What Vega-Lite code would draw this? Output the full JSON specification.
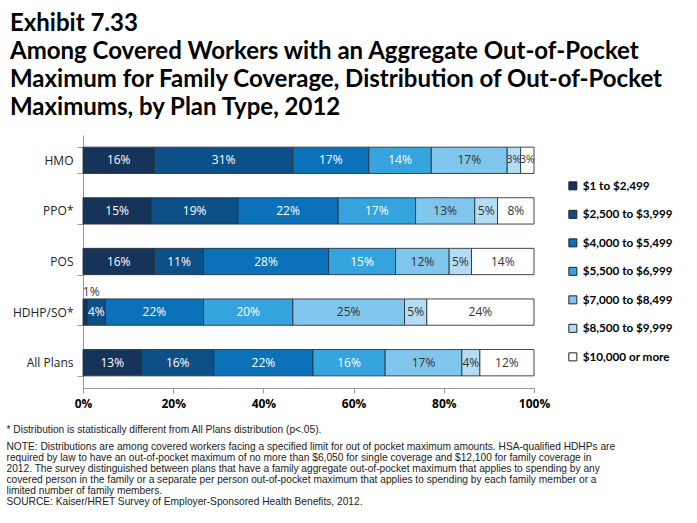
{
  "$schema": "https://vega.github.io/schema/vega-lite/v6.json",
  "width": 451,
  "height": 253,
  "autosize": {"type": "none"},
  "padding": {"left": 83, "top": 135, "right": 163, "bottom": 135},
  "background": "white",
  "title": {
    "text": ["Exhibit 7.33", "Among Covered Workers with an Aggregate Out-of-Pocket", "Maximum for Family Coverage, Distribution of Out-of-Pocket", "Maximums, by Plan Type, 2012"],
    "anchor": "start",
    "frame": "group",
    "dx": -73,
    "offset": 9,
    "font": "Lato",
    "fontSize": 24,
    "fontWeight": "bold",
    "lineHeight": 28,
    "color": "#000000"
  },
  "data": {
    "values": [
      {"plan": "HMO", "band": "$1 to $2,499", "ord": 0, "v": 16},
      {"plan": "HMO", "band": "$2,500 to $3,999", "ord": 1, "v": 31},
      {"plan": "HMO", "band": "$4,000 to $5,499", "ord": 2, "v": 17},
      {"plan": "HMO", "band": "$5,500 to $6,999", "ord": 3, "v": 14},
      {"plan": "HMO", "band": "$7,000 to $8,499", "ord": 4, "v": 17},
      {"plan": "HMO", "band": "$8,500 to $9,999", "ord": 5, "v": 3},
      {"plan": "HMO", "band": "$10,000 or more", "ord": 6, "v": 3},
      {"plan": "PPO*", "band": "$1 to $2,499", "ord": 0, "v": 15},
      {"plan": "PPO*", "band": "$2,500 to $3,999", "ord": 1, "v": 19},
      {"plan": "PPO*", "band": "$4,000 to $5,499", "ord": 2, "v": 22},
      {"plan": "PPO*", "band": "$5,500 to $6,999", "ord": 3, "v": 17},
      {"plan": "PPO*", "band": "$7,000 to $8,499", "ord": 4, "v": 13},
      {"plan": "PPO*", "band": "$8,500 to $9,999", "ord": 5, "v": 5},
      {"plan": "PPO*", "band": "$10,000 or more", "ord": 6, "v": 8},
      {"plan": "POS", "band": "$1 to $2,499", "ord": 0, "v": 16},
      {"plan": "POS", "band": "$2,500 to $3,999", "ord": 1, "v": 11},
      {"plan": "POS", "band": "$4,000 to $5,499", "ord": 2, "v": 28},
      {"plan": "POS", "band": "$5,500 to $6,999", "ord": 3, "v": 15},
      {"plan": "POS", "band": "$7,000 to $8,499", "ord": 4, "v": 12},
      {"plan": "POS", "band": "$8,500 to $9,999", "ord": 5, "v": 5},
      {"plan": "POS", "band": "$10,000 or more", "ord": 6, "v": 14},
      {"plan": "HDHP/SO*", "band": "$1 to $2,499", "ord": 0, "v": 1},
      {"plan": "HDHP/SO*", "band": "$2,500 to $3,999", "ord": 1, "v": 4},
      {"plan": "HDHP/SO*", "band": "$4,000 to $5,499", "ord": 2, "v": 22},
      {"plan": "HDHP/SO*", "band": "$5,500 to $6,999", "ord": 3, "v": 20},
      {"plan": "HDHP/SO*", "band": "$7,000 to $8,499", "ord": 4, "v": 25},
      {"plan": "HDHP/SO*", "band": "$8,500 to $9,999", "ord": 5, "v": 5},
      {"plan": "HDHP/SO*", "band": "$10,000 or more", "ord": 6, "v": 24},
      {"plan": "All Plans", "band": "$1 to $2,499", "ord": 0, "v": 13},
      {"plan": "All Plans", "band": "$2,500 to $3,999", "ord": 1, "v": 16},
      {"plan": "All Plans", "band": "$4,000 to $5,499", "ord": 2, "v": 22},
      {"plan": "All Plans", "band": "$5,500 to $6,999", "ord": 3, "v": 16},
      {"plan": "All Plans", "band": "$7,000 to $8,499", "ord": 4, "v": 17},
      {"plan": "All Plans", "band": "$8,500 to $9,999", "ord": 5, "v": 4},
      {"plan": "All Plans", "band": "$10,000 or more", "ord": 6, "v": 12}
    ]
  },
  "transform": [
    {"stack": "v", "groupby": ["plan"], "sort": [{"field": "ord", "order": "ascending"}], "as": ["v0", "v1"], "offset": "normalize"},
    {"calculate": "(datum.v0 + datum.v1) / 2", "as": "mid"},
    {"calculate": "datum.v + '%'", "as": "lab"}
  ],
  "encoding": {
    "y": {
      "field": "plan",
      "type": "nominal",
      "sort": ["HMO", "PPO*", "POS", "HDHP/SO*", "All Plans"],
      "scale": {"paddingInner": 0.48, "paddingOuter": 0.24},
      "axis": {
        "title": "* Distribution is statistically different from All Plans distribution (p<.05).",
        "titleAngle": 0,
        "titleAlign": "left",
        "titleAnchor": "start",
        "titleBaseline": "middle",
        "titleX": -77,
        "titleY": 294,
        "titleFont": "Liberation Sans",
        "titleFontSize": 10.2,
        "titleFontWeight": "normal",
        "titleColor": "#222222",
        "tickBand": "extent",
        "domainColor": "#999999",
        "tickColor": "#999999",
        "tickSize": 6,
        "labelFont": "Open Sans",
        "labelFontSize": 12,
        "labelColor": "#222222",
        "labelPadding": 4
      }
    }
  },
  "layer": [
    {
      "mark": {"type": "bar", "stroke": "#2a3440", "strokeWidth": 0.9},
      "encoding": {
        "x": {
          "field": "v0",
          "type": "quantitative",
          "scale": {"domain": [0, 1], "nice": false},
          "axis": {
            "format": ".0%",
            "values": [0, 0.2, 0.4, 0.6, 0.8, 1],
            "grid": false,
            "domainColor": "#999999",
            "tickColor": "#999999",
            "tickSize": 5,
            "labelFont": "Open Sans",
            "labelFontSize": 12,
            "labelFontWeight": "bold",
            "labelColor": "#000000",
            "labelPadding": 5,
            "labelFlush": false,
            "title": [
              "NOTE: Distributions are among covered workers facing a specified limit for out of pocket maximum amounts. HSA-qualified HDHPs are",
              "required by law to have an out-of-pocket maximum of no more than $6,050 for single coverage and $12,100 for family coverage in",
              "2012.  The survey distinguished between plans that have a family aggregate out-of-pocket maximum that applies to spending by any",
              "covered person in the family or a separate per person out-of-pocket maximum that applies to spending by each family member or a",
              "limited number of family members.",
              "SOURCE:  Kaiser/HRET Survey of Employer-Sponsored Health Benefits, 2012."
            ],
            "titleAnchor": "start",
            "titleAlign": "left",
            "titleBaseline": "top",
            "titleX": -77,
            "titleY": 53,
            "titleFont": "Liberation Sans",
            "titleFontSize": 10.2,
            "titleFontWeight": "normal",
            "titleColor": "#222222",
            "titleLineHeight": 11
          }
        },
        "x2": {"field": "v1"},
        "color": {
          "field": "band",
          "type": "nominal",
          "scale": {
            "domain": ["$1 to $2,499", "$2,500 to $3,999", "$4,000 to $5,499", "$5,500 to $6,999", "$7,000 to $8,499", "$8,500 to $9,999", "$10,000 or more"],
            "range": ["#163459", "#0D4F87", "#0B72BA", "#35A3DE", "#80C5EB", "#B4DDF3", "#FFFFFF"]
          },
          "legend": {
            "title": null,
            "orient": "none",
            "legendX": 484,
            "legendY": 45,
            "symbolType": "square",
            "symbolSize": 64,
            "symbolStrokeColor": "#222222",
            "symbolStrokeWidth": 1,
            "labelFont": "Lato",
            "labelFontSize": 11.7,
            "labelFontWeight": "bold",
            "labelColor": "#000000",
            "rowPadding": 14.5,
            "labelOffset": 4
          }
        }
      }
    },
    {
      "transform": [{"filter": "datum.v >= 2"}],
      "mark": {"type": "text", "font": "Open Sans", "baseline": "middle", "align": "center"},
      "encoding": {
        "x": {"field": "mid", "type": "quantitative"},
        "text": {"field": "lab"},
        "size": {"condition": {"test": "datum.v <= 3", "value": 10.5}, "value": 12},
        "color": {"condition": {"test": "datum.ord < 4", "value": "#ffffff"}, "value": "#333333"}
      }
    },
    {
      "transform": [{"filter": "datum.v < 2"}],
      "mark": {"type": "text", "font": "Open Sans", "fontSize": 12, "baseline": "middle", "align": "center", "dy": -20, "dx": 6, "color": "#333333"},
      "encoding": {
        "x": {"field": "mid", "type": "quantitative"},
        "text": {"field": "lab"}
      }
    }
  ],
  "config": {
    "view": {"stroke": null},
    "axis": {"grid": false}
  }
}
